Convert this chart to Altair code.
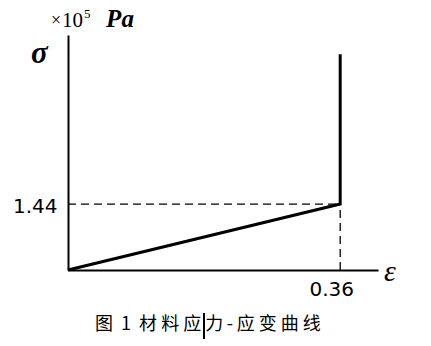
import altair as alt
import pandas as pd

# data
strain = [0.0, 0.36, 0.36]
stress = [0.0, 1.44, 4.71]
order = [0, 1, 2]
yield_strain = [0.36]
yield_stress = [1.44]
x_tick_values = [0.36]
y_tick_values = [1.44]
caption = "图\u00a0\u00a01\u00a0\u00a0材 料 应 力\u2009-\u2009应 变 曲 线"

X_MAX = 0.41
Y_MAX = 5.13

curve_df = pd.DataFrame({"eps": strain, "sig": stress, "o": order})
ref_df = pd.DataFrame({"eps": yield_strain, "sig": yield_stress, "zero": [0.0]})

xs = alt.Scale(domain=[0, X_MAX], nice=False, zero=True)
ys = alt.Scale(domain=[0, Y_MAX], nice=False, zero=True)

x_axis = alt.Axis(values=x_tick_values, title=None, grid=False, ticks=False,
                  domainColor="black", domainWidth=2, labelFont="DejaVu Sans",
                  labelFontSize=20, labelColor="black", labelPadding=9,
                  labelOffset=-9, format=".2f")
y_axis = alt.Axis(values=y_tick_values, title=None, grid=False, ticks=False,
                  domainColor="black", domainWidth=2, labelFont="DejaVu Sans",
                  labelFontSize=20, labelColor="black", labelPadding=11,
                  labelOffset=2, format=".2f")

base_curve = alt.Chart(curve_df).mark_line(color="black", strokeWidth=3,
                                           strokeJoin="miter").encode(
    x=alt.X("eps:Q", scale=xs, axis=x_axis),
    y=alt.Y("sig:Q", scale=ys, axis=y_axis),
    order="o:Q",
)

h_dash = alt.Chart(ref_df).mark_rule(color="black", strokeWidth=1.3,
                                     strokeDash=[8, 5]).encode(
    x=alt.X("zero:Q", scale=xs),
    x2="eps:Q",
    y=alt.Y("sig:Q", scale=ys),
)
v_dash = alt.Chart(ref_df).mark_rule(color="black", strokeWidth=1.3,
                                     strokeDash=[8, 5]).encode(
    x=alt.X("eps:Q", scale=xs),
    y=alt.Y("zero:Q", scale=ys),
    y2="sig:Q",
)

def label(text, x, y, size, font="Liberation Serif", style="normal",
          weight="normal", align="left", baseline="alphabetic"):
    return alt.Chart(pd.DataFrame({"t": [text]})).mark_text(
        font=font, fontSize=size, fontStyle=style, fontWeight=weight,
        align=align, baseline=baseline, color="black"
    ).encode(text="t:N", x=alt.value(x), y=alt.value(y))

texts = [
    label("×", -12, -9, 18, align="center"),
    label("10", -6, -8, 21),
    label("5", 16, -17, 13),
    label("Pa", 52, -8, 25, style="italic", weight="bold", align="center"),
    label("σ", -37, 28, 31, style="italic", weight="bold"),
    label("ε", 316, 246, 30, style="italic"),
    label(caption, 27, 290, 18, font="Noto Sans CJK SC", baseline="middle"),
]

cursor = alt.Chart(pd.DataFrame({"a": [0]})).mark_rule(
    color="black", strokeWidth=2).encode(
    x=alt.value(136), y=alt.value(278), y2=alt.value(304))

chart = alt.layer(h_dash, v_dash, base_curve, *texts, cursor).properties(
    width=310, height=235,
    padding={"left": 68, "top": 35, "right": 53, "bottom": 76},
    autosize=alt.AutoSizeParams(type="none"),
    background="white",
).configure_view(stroke=None)

chart.save("out.html", embed_options={"renderer": "svg", "actions": False})
